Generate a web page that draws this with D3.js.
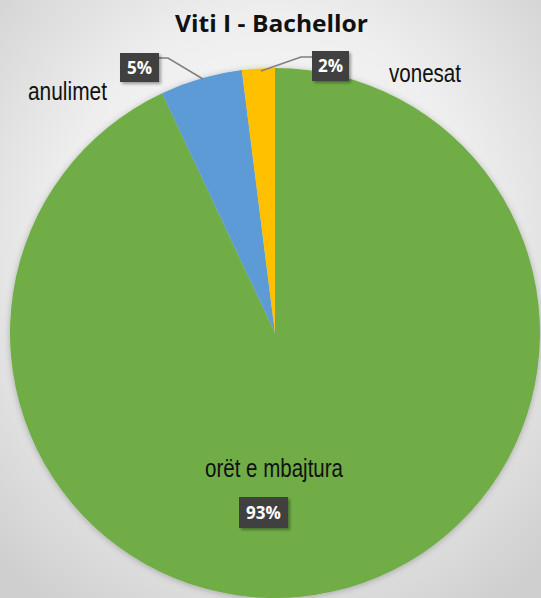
<!DOCTYPE html>
<html><head><meta charset="utf-8">
<script src="https://cdn.jsdelivr.net/npm/d3@7"></script>
<style>html,body{margin:0;padding:0;overflow:hidden;background:#fff}</style>
</head><body>
<script>
const categories = ["orët e mbajtura", "anulimet", "vonesat"];
const values = [93, 5, 2];
const pctLabels = ["93%", "5%", "2%"];
const colors = ["#70AD47", "#5B9BD5", "#FFC000"];
const title = "Viti I - Bachellor";

const W = 541, H = 598;
const svg = d3.select("body").append("svg").attr("width", W).attr("height", H);
const defs = svg.append("defs");
const rg = defs.append("radialGradient").attr("id", "bg").attr("cx", "50%").attr("cy", "42%").attr("r", "72%");
rg.append("stop").attr("offset", "0%").attr("stop-color", "#ffffff");
rg.append("stop").attr("offset", "55%").attr("stop-color", "#eeeeee");
rg.append("stop").attr("offset", "100%").attr("stop-color", "#cfcfcf");
svg.append("rect").attr("width", W).attr("height", H).attr("fill", "url(#bg)");

const sh = defs.append("filter").attr("id", "sh").attr("x", "-20%").attr("y", "-20%").attr("width", "140%").attr("height", "140%");
sh.append("feDropShadow").attr("dx", 0).attr("dy", 1).attr("stdDeviation", 3).attr("flood-color", "#000").attr("flood-opacity", 0.25);
const bs = defs.append("filter").attr("id", "bs").attr("x", "-30%").attr("y", "-30%").attr("width", "160%").attr("height", "160%");
bs.append("feDropShadow").attr("dx", 2).attr("dy", 2).attr("stdDeviation", 1.5).attr("flood-color", "#000").attr("flood-opacity", 0.35);

const cx = 275, cy = 333, R = 265;
const pie = d3.pie().sort(null).value(d => d)(values);
const arc = d3.arc().innerRadius(0).outerRadius(R);
const g = svg.append("g").attr("transform", `translate(${cx},${cy})`);
g.append("g").attr("filter", "url(#sh)").selectAll("path").data(pie).join("path")
  .attr("d", arc).attr("fill", (d, i) => colors[i]);

// title
svg.append("text").attr("x", 271.5).attr("y", 32).attr("text-anchor", "middle")
  .attr("font-family", "'Open Sans', sans-serif").attr("font-weight", "bold").attr("font-size", 24)
  .attr("fill", "#111").attr("textLength", 193).attr("lengthAdjust", "spacingAndGlyphs").text(title);

// category labels
const catPos = [
  {x: 274, y: 477, w: 138},
  {x: 67.5, y: 100, w: 79},
  {x: 425, y: 82, w: 72}
];
svg.selectAll("text.cat").data(categories).join("text").attr("class", "cat")
  .attr("x", (d, i) => catPos[i].x).attr("y", (d, i) => catPos[i].y).attr("text-anchor", "middle")
  .attr("font-family", "'Liberation Sans', Arial, sans-serif").attr("font-size", 25.5).attr("fill", "#111")
  .attr("textLength", (d, i) => catPos[i].w).attr("lengthAdjust", "spacingAndGlyphs")
  .text(d => d);

// leader lines
const leaders = [
  null,
  [[159, 58], [168, 58], [203, 79]],
  [[312, 57], [301, 57], [261, 71]]
];
leaders.forEach(p => {
  if (!p) return;
  svg.append("path").attr("d", d3.line()(p)).attr("fill", "none").attr("stroke", "#7f7f7f").attr("stroke-width", 1.5);
});

// percent boxes
const boxPos = [
  {x: 239, y: 497, w: 49, h: 31},
  {x: 120, y: 53, w: 39, h: 29},
  {x: 312, y: 51, w: 37, h: 30}
];
pctLabels.forEach((t, i) => {
  const b = boxPos[i];
  svg.append("rect").attr("x", b.x).attr("y", b.y).attr("width", b.w).attr("height", b.h)
    .attr("fill", "#404040").attr("filter", "url(#bs)");
  svg.append("text").attr("x", b.x + b.w / 2).attr("y", b.y + b.h / 2 + 6).attr("text-anchor", "middle")
    .attr("font-family", "'Open Sans', sans-serif").attr("font-weight", "bold").attr("font-size", 17)
    .attr("fill", "#fff").text(t);
});
</script>
</body></html>
